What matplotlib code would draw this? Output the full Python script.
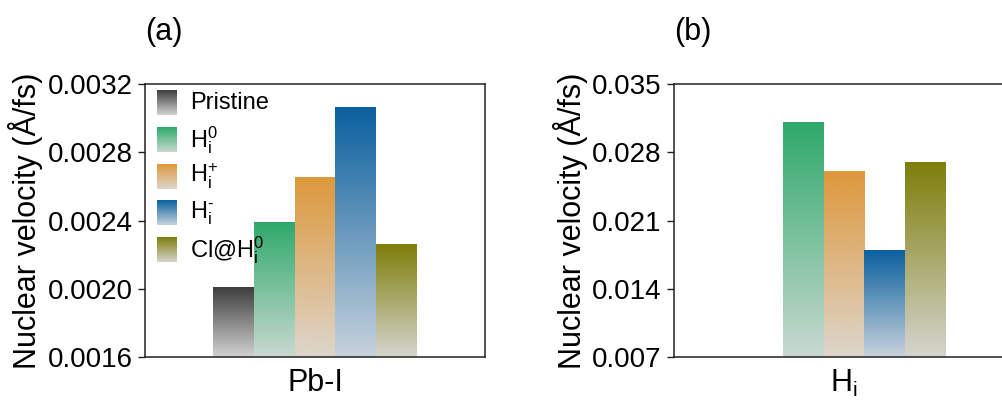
import numpy as np
import matplotlib
matplotlib.use("Agg")
import matplotlib.pyplot as plt
from matplotlib.colors import LinearSegmentedColormap

plt.rcParams['font.family'] = ['Liberation Sans', 'DejaVu Sans']
plt.rcParams['mathtext.fontset'] = 'custom'
plt.rcParams['mathtext.rm'] = 'Liberation Sans'
plt.rcParams['mathtext.it'] = 'Liberation Sans'

# -------------------------------------------
# data
# -------------------------------------------
labels = ["Pristine", r"H$_\mathregular{i}^\mathregular{0}$", r"H$_\mathregular{i}^\mathregular{+}$",
          r"H$_\mathregular{i}^{\text{-}}$", r"Cl@H$_\mathregular{i}^\mathregular{0}$"]
top_colors = ["#3e3e3e", "#2fa96b", "#dd983c", "#0a609e", "#7e7e0a"]
bottom_colors = ["#d2d2d2", "#c9d9d1", "#ddd6cc", "#c8d2dc", "#d5d5d0"]

pbi_vals = [0.002006, 0.002388, 0.002653, 0.003063, 0.002257]
hi_vals = [np.nan, 0.03109, 0.02598, 0.01795, 0.02697]

W, H = 1003, 405
fig = plt.figure(figsize=(W / 100, H / 100), dpi=100)

def px_axes(left, top, width, height):
    return fig.add_axes([left / W, (H - top - height) / H, width / W, height / H])

ax1 = px_axes(145, 84, 340, 273)
ax2 = px_axes(674, 84, 340, 273)

bw = 0.24
grad = np.linspace(0, 1, 256).reshape(-1, 1)

def gradient_bars(ax, vals, ymin, ymax):
    xs = (np.arange(len(vals)) - 2) * bw
    for i, v in enumerate(vals):
        if np.isnan(v):
            continue
        cmap = LinearSegmentedColormap.from_list("g%d" % i, [bottom_colors[i], top_colors[i]])
        x0 = xs[i] - bw / 2
        ax.imshow(grad, extent=[x0, x0 + bw, ymin, v], origin="lower",
                  aspect="auto", cmap=cmap, zorder=2)
    ax.set_xlim(-1, 1)
    ax.set_ylim(ymin, ymax)

gradient_bars(ax1, pbi_vals, 0.0016, 0.0032)
gradient_bars(ax2, hi_vals, 0.007, 0.035)

ax1.set_yticks([0.0016, 0.0020, 0.0024, 0.0028, 0.0032])
ax1.set_yticklabels(["0.0016", "0.0020", "0.0024", "0.0028", "0.0032"])
ax2.set_yticks([0.007, 0.014, 0.021, 0.028, 0.035])
ax2.set_yticklabels(["0.007", "0.014", "0.021", "0.028", "0.035"])

for ax, xl, tag in [(ax1, "Pb-I", "(a)"), (ax2, r"H$_\mathregular{i}$", "(b)")]:
    ax.set_xticks([])
    ax.tick_params(axis="y", direction="out", length=5, width=1.0, labelsize=20,
                   color="#222222", pad=4)
    for s in ax.spines.values():
        s.set_linewidth(1.1)
        s.set_color("#222222")
    ax.set_ylabel("Nuclear velocity (Å/fs)", fontsize=22, labelpad=3)
    ax.set_xlabel(xl, fontsize=22, labelpad=8)
    ax.text(0.0, 1.19, tag, transform=ax.transAxes, fontsize=22, ha="left", va="center")

# legend drawn by hand with gradient swatches
for i, lab in enumerate(labels):
    cmap = LinearSegmentedColormap.from_list("l%d" % i, [bottom_colors[i], top_colors[i]])
    ytop = 0.974 - i * 0.1344
    ybot = ytop - 0.088
    ax1.imshow(grad, extent=[0.035, 0.091, ybot, ytop], origin="lower", aspect="auto",
               cmap=cmap, transform=ax1.transAxes, zorder=3)
    ax1.text(0.132, (ytop + ybot) / 2, lab, transform=ax1.transAxes, fontsize=17,
             ha="left", va="center", zorder=4)

fig.savefig("out.png", dpi=100)
